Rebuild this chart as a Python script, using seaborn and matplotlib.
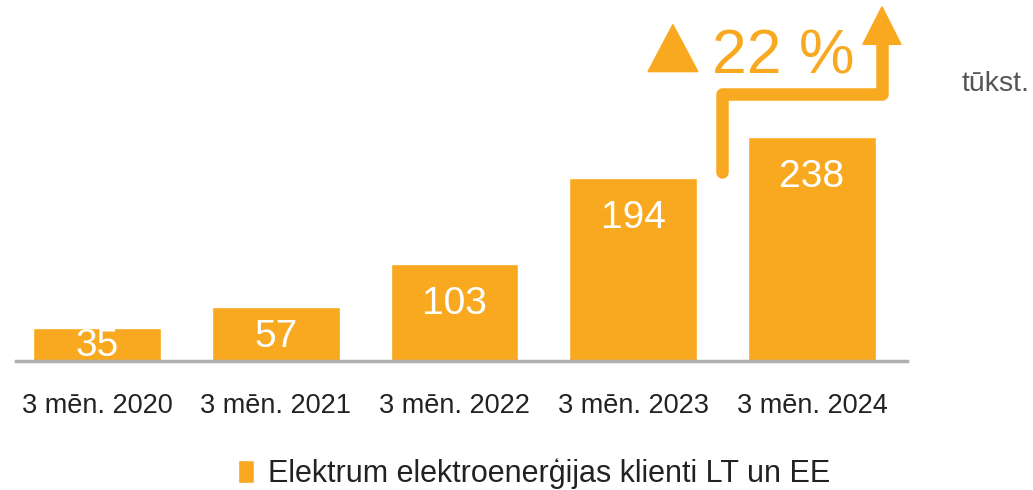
import matplotlib
matplotlib.use("Agg")
import matplotlib.pyplot as plt
from matplotlib.patches import Polygon
import seaborn as sns
import pandas as pd

categories = ["3 mēn. 2020", "3 mēn. 2021", "3 mēn. 2022", "3 mēn. 2023", "3 mēn. 2024"]
values = [35, 57, 103, 194, 238]
series_name = "Elektrum elektroenerģijas klienti LT un EE"
growth_label = "22 %"
unit_label = "tūkst."

ORANGE = "#F9A91F"
sns.set_theme(style="white")
plt.rcParams["font.family"] = ["Liberation Sans", "DejaVu Sans"]

df = pd.DataFrame({"cat": categories, "val": values})

fig = plt.figure(figsize=(10.33, 4.9), dpi=100)
ax = fig.add_axes([16 / 1033, 129 / 490, 891 / 1033, 357.6 / 490])
sns.barplot(data=df, x="cat", y="val", color=ORANGE, saturation=1, width=0.715,
            label=series_name, ax=ax)
ax.set_xlim(-0.453, 4.532)
ax.set_ylim(0, 380)
ax.set_xlabel("")
ax.set_ylabel("")
ax.set_yticks([])
for s in ["top", "right", "left"]:
    ax.spines[s].set_visible(False)
ax.spines["bottom"].set_color("#B0B0B0")
ax.spines["bottom"].set_linewidth(2.5)
ax.tick_params(axis="x", length=0, pad=23, labelsize=19.5, labelcolor="#222222")

for i, v in enumerate(values):
    yc = max(v - 42, v * 0.45)
    ax.text(i, yc, str(v), ha="center", va="center", color="white", fontsize=28)

# growth arrow
ax.plot([3.497, 3.497, 4.392, 4.392], [201, 284, 284, 338], color=ORANGE, lw=9,
        solid_capstyle="round", solid_joinstyle="round", clip_on=False)
ax.add_patch(Polygon([[4.285, 336.5], [4.498, 336.5], [4.392, 376.5]], closed=True,
                     color=ORANGE, clip_on=False))
ax.add_patch(Polygon([[3.083, 307.5], [3.362, 307.5], [3.222, 357.5]], closed=True,
                     color=ORANGE, clip_on=False))
fig.text(712 / 1033, 1 - 73 / 490, growth_label, color=ORANGE, fontsize=45,
         ha="left", va="baseline")
fig.text(962 / 1033, 1 - 91 / 490, unit_label, color="#555555", fontsize=20.5,
         ha="left", va="baseline")

leg = ax.legend(loc="center", bbox_to_anchor=(534 / 1033, 1 - 474 / 490),
                bbox_transform=fig.transFigure, frameon=False, fontsize=22,
                handlelength=0.55, handleheight=0.8, handletextpad=0.45)
for t in leg.get_texts():
    t.set_color("#222222")

fig.savefig("out.png", dpi=100)
